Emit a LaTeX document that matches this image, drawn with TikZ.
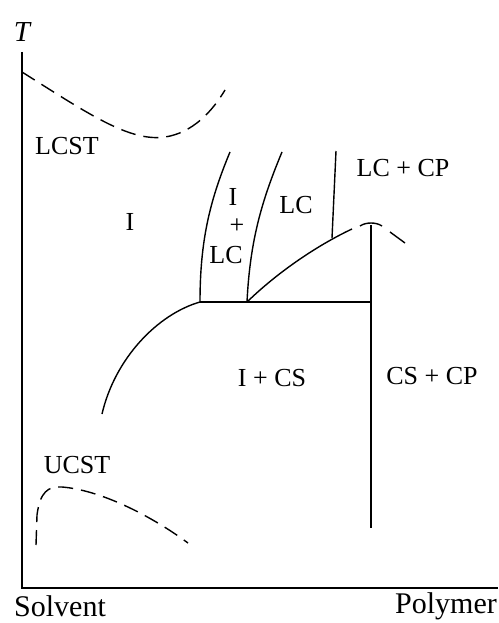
\documentclass[tikz,border=0pt]{standalone}
\usepackage{fontspec}
\setmainfont{Liberation Serif}
\usetikzlibrary{positioning}

\begin{document}
\begin{tikzpicture}[
  x=1pt,y=-1pt,
  axis/.style={line width=1.5pt},
  phase/.style={line width=1.4pt},
  spin/.style={line width=1.4pt,dash pattern=on 15pt off 8pt},
  lbl/.style={font=\fontsize{26}{28}\selectfont,inner sep=1pt},
  axlbl/.style={font=\fontsize{30}{32}\selectfont,inner sep=1pt}
]
\useasboundingbox (0,0) rectangle (498,623);
% axes
\coordinate (O)    at (22,588);
\coordinate (Ttop) at (22,52);
\coordinate (Xend) at (498,588);
\draw[axis] (Ttop) -- (O) -- (Xend);
\node[axlbl,font=\fontsize{29}{31}\selectfont\itshape] (T) at (22,32) {T};
\node[axlbl] (solv) at (60,606) {Solvent};
\node[axlbl,anchor=east,inner sep=0pt] (poly) at (497,606) {Polymer};
% key points
\coordinate (A) at (200,302);
\coordinate (B) at (247,302);
\coordinate (C) at (371,302);
\coordinate (D) at (352,229);
\coordinate (E) at (332,238);
\coordinate (Ctop) at (371,225);
\coordinate (Cbot) at (371,528);
\coordinate (liq) at (102,414);
\coordinate (ILCtop) at (230,152);
\coordinate (LCtop) at (282,152);
\coordinate (LCPtop) at (336,151);
% solid phase boundaries
\draw[phase] (liq) .. controls (115,358) and (158,314) .. (A);
\draw[phase] (A) -- (C);
\draw[phase] (A) .. controls (200,240) and (210,200) .. (ILCtop);
\draw[phase] (B) .. controls (250,240) and (262,200) .. (LCtop);
\draw[phase] (B) .. controls (280,270) and (320,244) .. (D);
\draw[phase] (E) -- (LCPtop);
\draw[phase] (Ctop) -- (Cbot);
% dashed branches
\draw[phase] (360,226) .. controls (366,222) and (376,222) .. (382,226);
\draw[phase] (390,232) -- (405,243);
\draw[spin] (22,72) .. controls (90,115) and (130,142) .. (165,137)
            .. controls (192,133) and (212,112) .. (225,90);
\draw[spin] (36,545) -- (37,515) .. controls (40,492) and (48,486) .. (62,487)
            .. controls (100,490) and (150,515) .. (188,543);
% region labels
\node[lbl] (lcst) at (67,146) {LCST};
\node[lbl] (ucst) at (77,465) {UCST};
\node[lbl] (iso)  at (130,222) {I};
\node[lbl] (ilc1) at (233,197) {I};
\node[lbl] (ilc2) at (237,226) {+};
\node[lbl] (ilc3) at (226,255) {LC};
\node[lbl] (lc)   at (296,205) {LC};
\node[lbl] (lccp) at (403,168) {LC + CP};
\node[lbl] (ics)  at (272,378) {I + CS};
\node[lbl] (cscp) at (432,376) {CS + CP};
\end{tikzpicture}
\end{document}
